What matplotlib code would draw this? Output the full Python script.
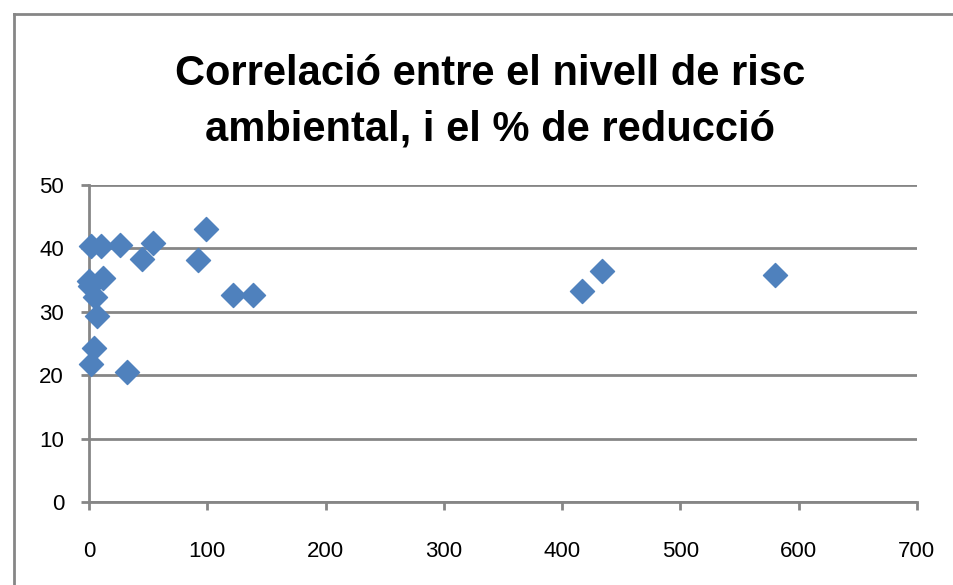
import matplotlib
matplotlib.use("Agg")
import matplotlib.pyplot as plt
from matplotlib.lines import Line2D

# nivell de risc ambiental vs % de reducció
risc = [2, 10, 26, 45, 54, 99, 92, 122, 139,
        0, 12, 1, 5, 7, 4, 2, 32,
        417, 434, 580]
reduccio = [40.4, 40.3, 40.5, 38.3, 40.9, 43.1, 38.2, 32.6, 32.6,
            34.8, 35.4, 34.0, 32.3, 29.4, 24.3, 21.8, 20.5,
            33.3, 36.4, 35.8]

xticks = [0, 100, 200, 300, 400, 500, 600, 700]
yticks = [0, 10, 20, 30, 40, 50]

plt.rcParams['font.family'] = ['Liberation Sans', 'DejaVu Sans']
grey = '#868686'

fig = plt.figure(figsize=(9.54, 5.85), dpi=100)
ax = fig.add_axes([0.0933, 0.1419, 0.8677, 0.5419])

ax.scatter(risc, reduccio, marker='D', s=150, color='#4F81BD', zorder=3, clip_on=False)

ax.set_xlim(0, 700)
ax.set_ylim(0, 50)
ax.set_xticks(xticks)
ax.set_yticks(yticks)
ax.yaxis.grid(True, color=grey, linewidth=2)
ax.set_axisbelow(True)
for side in ['top', 'right']:
    ax.spines[side].set_visible(False)
for side in ['left', 'bottom']:
    ax.spines[side].set_color(grey)
    ax.spines[side].set_linewidth(2)
ax.tick_params(axis='both', colors=grey, width=2, length=6, labelsize=16, labelcolor='black')
ax.tick_params(axis='x', pad=22)
ax.tick_params(axis='y', pad=12)

fig.text(0.514, 0.826, "Correlació entre el nivell de risc\nambiental, i el % de reducció",
         ha='center', va='center', fontsize=30, fontweight='bold', linespacing=1.5)

# marc exterior del gràfic
fig.add_artist(Line2D([14 / 954, 14 / 954], [0, 1 - 14 / 585], color=grey, linewidth=2))
fig.add_artist(Line2D([14 / 954, 1], [1 - 14 / 585, 1 - 14 / 585], color=grey, linewidth=2))

plt.savefig("out.png", dpi=100)
